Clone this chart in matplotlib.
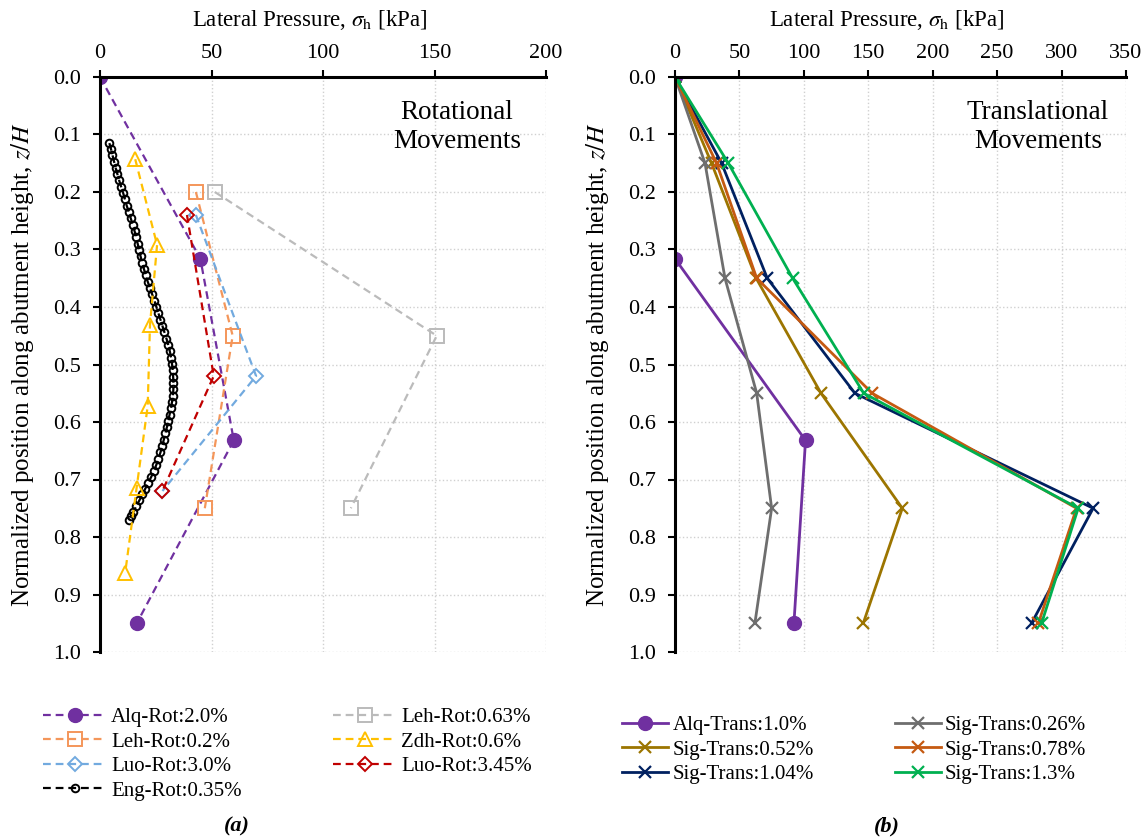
import matplotlib
matplotlib.use("Agg")
import matplotlib.pyplot as plt
from matplotlib.ticker import MultipleLocator, FormatStrFormatter

plt.rcParams['font.family'] = ['Liberation Serif', 'DejaVu Serif']
plt.rcParams['mathtext.fontset'] = 'stix'

# ---- (a) rotational movements: (depth z/H, lateral pressure kPa) ----
alq_rot_z = [0.0, 0.316, 0.632, 0.95]
alq_rot_p = [0.0, 45.0, 60.0, 16.5]

leh02_z = [0.20, 0.45, 0.75]
leh02_p = [43.0, 59.5, 47.0]

leh063_z = [0.20, 0.45, 0.75]
leh063_p = [51.5, 151.0, 112.5]

luo30_z = [0.24, 0.52, 0.72]
luo30_p = [43.0, 70.0, 28.0]

luo345_z = [0.24, 0.52, 0.72]
luo345_p = [39.0, 51.0, 28.0]

zdh_z = [0.143, 0.292, 0.432, 0.572, 0.715, 0.862]
zdh_p = [15.8, 25.6, 22.4, 21.4, 16.4, 11.3]

eng_z = [0.115, 0.125, 0.136, 0.147, 0.158, 0.169, 0.180, 0.191, 0.202, 0.213,
         0.224, 0.235, 0.246, 0.257, 0.268, 0.279, 0.290, 0.301, 0.312, 0.323,
         0.334, 0.345, 0.356, 0.367, 0.378, 0.389, 0.400, 0.411, 0.422, 0.433,
         0.444, 0.455, 0.466, 0.477, 0.488, 0.499, 0.510, 0.521, 0.532, 0.543,
         0.554, 0.565, 0.576, 0.587, 0.598, 0.609, 0.620, 0.631, 0.642, 0.653,
         0.664, 0.675, 0.686, 0.696, 0.706, 0.716, 0.726, 0.736, 0.746, 0.756,
         0.764, 0.770]
eng_p = [4.2, 4.9, 5.6, 6.3, 7.0, 7.8, 8.6, 9.5, 10.4, 11.2,
         12.0, 12.9, 13.8, 14.7, 15.5, 16.2, 16.9, 17.5, 18.2, 18.9,
         19.7, 20.5, 21.4, 22.4, 23.4, 24.4, 25.3, 26.2, 27.1, 28.0,
         28.9, 29.8, 30.6, 31.3, 31.9, 32.3, 32.6, 32.8, 32.9, 32.9,
         32.7, 32.3, 31.8, 31.2, 30.6, 30.0, 29.3, 28.6, 27.9, 27.1,
         26.2, 25.2, 24.1, 22.9, 21.6, 20.3, 19.0, 17.7, 16.3, 15.0,
         14.0, 13.1]

# ---- (b) translational movements ----
alq_tr_z = [0.0, 0.316, 0.632, 0.95]
alq_tr_p = [0.0, 0.0, 101.3, 92.3]

sig_z = [0.0, 0.15, 0.35, 0.55, 0.75, 0.95]
sig026_p = [0.0, 23.3, 38.8, 63.4, 75.0, 62.0]
sig052_p = [0.0, 28.4, 63.0, 113.3, 176.4, 146.1]
sig078_p = [0.0, 32.3, 63.4, 153.0, 311.6, 282.0]
sig104_p = [0.0, 36.2, 71.6, 139.6, 324.5, 276.7]
sig130_p = [0.0, 41.4, 91.3, 146.5, 312.9, 284.5]

TICK_FS = 16
XLABEL_FS = 16.5
YLABEL_FS = 18
LEG_FS = 15
DASH = (3.5, 2.2)

fig = plt.figure(figsize=(11.48, 8.39), dpi=100)
axa = fig.add_axes([100 / 1148, 1 - 652 / 839, 446 / 1148, 575 / 839])
axb = fig.add_axes([675 / 1148, 1 - 652 / 839, 451 / 1148, 575 / 839])


def style_axis(ax, xmax):
    ax.set_xlim(0, xmax)
    ax.set_ylim(1.0, 0.0)
    ax.xaxis.tick_top()
    ax.xaxis.set_label_position('top')
    ax.xaxis.set_major_locator(MultipleLocator(50))
    ax.yaxis.set_major_locator(MultipleLocator(0.1))
    ax.yaxis.set_major_formatter(FormatStrFormatter('%.1f'))
    for s in ['right', 'bottom']:
        ax.spines[s].set_visible(False)
    for s in ['left', 'top']:
        ax.spines[s].set_linewidth(2.2)
    ax.tick_params(axis='both', labelsize=TICK_FS, width=1.5, length=5, direction='out')
    ax.tick_params(axis='y', pad=9)
    ax.tick_params(axis='x', pad=5)
    ax.grid(True, color='#D0D0D0', linestyle=':', linewidth=1.0)
    ax.set_axisbelow(True)
    ax.set_xlabel(r'Lateral Pressure, $\sigma_\mathrm{h}$ [kPa]', fontsize=XLABEL_FS)
    ax.xaxis.set_label_coords(0.47, 1.088)
    ax.set_ylabel(r'Normalized position along abutment height, $z/H$', fontsize=YLABEL_FS,
                  labelpad=12)


style_axis(axa, 200)
style_axis(axb, 350)

# panel (a)
rot_kw = dict(ls='--', dashes=DASH, lw=1.6, mew=1.4, mfc='none')
h = []
h.append(axa.plot(alq_rot_p, alq_rot_z, ls='--', dashes=DASH, lw=1.6, color='#7030A0',
                  marker='o', ms=10, label='Alq-Rot:2.0%')[0])
h.append(axa.plot(leh02_p, leh02_z, color='#F4965A', marker='s', ms=9.5,
                  label='Leh-Rot:0.2%', **rot_kw)[0])
h.append(axa.plot(luo30_p, luo30_z, color='#72AADF', marker='D', ms=7.5,
                  label='Luo-Rot:3.0%', **rot_kw)[0])
h.append(axa.plot(eng_p, eng_z, color='black', marker='o', ms=5.5,
                  label='Eng-Rot:0.35%', **rot_kw)[0])
h.append(axa.plot(leh063_p, leh063_z, color='#BBBBBB', marker='s', ms=9.5,
                  label='Leh-Rot:0.63%', **rot_kw)[0])
h.append(axa.plot(zdh_p, zdh_z, color='#FFC000', marker='^', ms=10,
                  label='Zdh-Rot:0.6%', **rot_kw)[0])
h.append(axa.plot(luo345_p, luo345_z, color='#C00000', marker='D', ms=7.5,
                  label='Luo-Rot:3.45%', **rot_kw)[0])
axa.text(0.80, 0.913, 'Rotational\nMovements', transform=axa.transAxes, fontsize=19.5,
         ha='center', va='center', linespacing=1.25)
axa.legend(handles=h, ncol=2, frameon=False, fontsize=LEG_FS, loc='upper left',
           bbox_to_anchor=(33 / 1148, 1 - 697 / 839), bbox_transform=fig.transFigure,
           borderpad=0, handlelength=3.0, handletextpad=0.25, columnspacing=4.4,
           labelspacing=0.24)

# panel (b)
tr_kw = dict(ls='-', lw=2, marker='x', ms=8.5, mew=1.6)
g = []
g.append(axb.plot(alq_tr_p, alq_tr_z, '-', color='#7030A0', lw=2, marker='o', ms=10,
                  label='Alq-Trans:1.0%')[0])
g.append(axb.plot(sig052_p, sig_z, color='#9C7500', label='Sig-Trans:0.52%', **tr_kw)[0])
g.append(axb.plot(sig104_p, sig_z, color='#002060', label='Sig-Trans:1.04%', **tr_kw)[0])
g.append(axb.plot(sig026_p, sig_z, color='#6E6E6E', label='Sig-Trans:0.26%', **tr_kw)[0])
g.append(axb.plot(sig078_p, sig_z, color='#C55A11', label='Sig-Trans:0.78%', **tr_kw)[0])
g.append(axb.plot(sig130_p, sig_z, color='#00B050', label='Sig-Trans:1.3%', **tr_kw)[0])
axb.text(0.805, 0.913, 'Translational\nMovements', transform=axb.transAxes, fontsize=19.5,
         ha='center', va='center', linespacing=1.25)
axb.legend(handles=g, ncol=2, frameon=False, fontsize=LEG_FS, loc='upper left',
           bbox_to_anchor=(612 / 1148, 1 - 705 / 839), bbox_transform=fig.transFigure,
           borderpad=0, handlelength=2.2, handletextpad=0.2, columnspacing=3.9,
           labelspacing=0.24)

fig.text(237 / 1148, 1 - 826 / 839, '(a)', fontsize=16, fontweight='bold', fontstyle='italic',
         ha='center', va='center')
fig.text(887 / 1148, 1 - 826 / 839, '(b)', fontsize=16, fontweight='bold', fontstyle='italic',
         ha='center', va='center')

fig.savefig('out.png', dpi=100)
